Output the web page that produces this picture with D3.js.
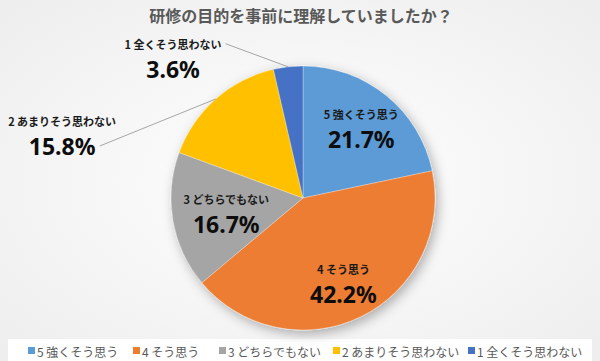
<!DOCTYPE html>
<html>
<head>
<meta charset="utf-8">
<script src="https://cdn.jsdelivr.net/npm/d3@7"></script>
<style>
  body { margin: 0; }
  #container { width: 600px; height: 361px; }
</style>
</head>
<body>
<div id="container"></div>
<script>
let w = 600;
let h = 361;

// data
let categories = ["5 強くそう思う", "4 そう思う", "3 どちらでもない", "2 あまりそう思わない", "1 全くそう思わない"];
let values = [21.7, 42.2, 16.7, 15.8, 3.6];
let colors = ["#5b9bd5", "#ed7d31", "#a5a5a5", "#ffc000", "#4472c4"];
let title = "研修の目的を事前に理解していましたか？";

// label placement: inside labels sit on the slice's mid angle, outside ones at angle + radius factor
let labelPlace = [
  {inside: true, rf: 0.7},
  {inside: true, rf: 0.7},
  {inside: true, rf: 0.59},
  {inside: false, angle: 285.1, rf: 1.89, leaderRow: "pct"},
  {inside: false, angle: 317.6, rf: 1.46, leaderRow: "name"}
];

let cx = 303, cy = 198, r = 132;
let jp = "'Noto Sans CJK JP', sans-serif";
let num = "'Noto Sans', 'Liberation Sans', sans-serif";

let viz = d3.select("#container").append("svg")
    .attr("width", w)
    .attr("height", h);

let defs = viz.append("defs");
let grad = defs.append("radialGradient").attr("id", "bg")
    .attr("cx", "50%").attr("cy", "50%").attr("r", "75%");
grad.append("stop").attr("offset", "0%").attr("stop-color", "#ffffff");
grad.append("stop").attr("offset", "100%").attr("stop-color", "#ececec");

let shadow = defs.append("filter").attr("id", "shadow")
    .attr("x", "-20%").attr("y", "-20%").attr("width", "140%").attr("height", "140%");
shadow.append("feDropShadow")
    .attr("dx", 3).attr("dy", 4).attr("stdDeviation", 6)
    .attr("flood-color", "#000").attr("flood-opacity", 0.3);

viz.append("rect").attr("width", w).attr("height", h).attr("fill", "url(#bg)");

// title
viz.append("text")
    .text(title)
    .attr("x", 301)
    .attr("y", 22)
    .attr("text-anchor", "middle")
    .style("font-family", jp)
    .style("font-weight", "bold")
    .style("font-size", "16px")
    .attr("fill", "#595959");

// legend box (behind the pie shadow)
viz.append("rect")
    .attr("x", 8).attr("y", 339).attr("width", 584).attr("height", 22)
    .attr("fill", "#ffffff");

// pie
let pie = d3.pie().sort(null).value(function(d){ return d; });
let arcs = pie(values);
let arcMaker = d3.arc().innerRadius(0).outerRadius(r);

let g = viz.append("g").attr("transform", "translate(" + cx + "," + cy + ")");

g.append("g").attr("filter", "url(#shadow)")
  .selectAll("path").data(arcs).enter()
  .append("path")
    .attr("d", arcMaker)
    .attr("fill", function(d, i){ return colors[i]; })
    .attr("stroke", "#ffffff")
    .attr("stroke-width", 0.3);

function polar(angleDeg, rad){
  let a = angleDeg * Math.PI / 180;
  return [rad * Math.sin(a), -rad * Math.cos(a)];
}

// labels
arcs.forEach(function(d, i){
  let p = labelPlace[i];
  let mid = (d.startAngle + d.endAngle) / 2 * 180 / Math.PI;
  let pos = p.inside ? polar(mid, r * p.rf) : polar(p.angle, r * p.rf);
  let lg = g.append("g").attr("transform", "translate(" + pos[0] + "," + pos[1] + ")");
  let nameY = -12, pctY = 13;
  let nm = lg.append("text")
      .text(categories[i])
      .attr("x", 0).attr("y", nameY)
      .attr("text-anchor", "middle")
      .attr("dominant-baseline", "central")
      .style("font-family", jp)
      .style("font-weight", "bold")
      .style("font-size", "11px")
      .attr("fill", "#1a1a1a");
  let pc = lg.append("text")
      .text(values[i].toFixed(1) + "%")
      .attr("x", 0).attr("y", pctY)
      .attr("text-anchor", "middle")
      .attr("dominant-baseline", "central")
      .style("font-family", num)
      .style("font-weight", "bold")
      .style("font-size", "23px")
      .attr("fill", "#0d0d0d");

  if(!p.inside){
    let row = p.leaderRow == "name" ? nm : pc;
    let bb = row.node().getBBox();
    let end = [pos[0] + bb.x + bb.width + 4, pos[1] + (p.leaderRow == "name" ? nameY : pctY)];
    let start = polar(mid, r);
    g.append("line")
      .attr("x1", start[0]).attr("y1", start[1])
      .attr("x2", end[0]).attr("y2", end[1])
      .attr("stroke", "#a6a6a6")
      .attr("stroke-width", 1);
  }
});

// legend
let legendX = [28, 133, 219, 333, 468];
let lgd = viz.append("g");
categories.forEach(function(c, i){
  let item = lgd.append("g").attr("transform", "translate(" + legendX[i] + ",351)");
  item.append("rect")
      .attr("x", 0).attr("y", -4).attr("width", 7).attr("height", 7)
      .attr("fill", colors[i]);
  item.append("text")
      .text(c)
      .attr("x", 9).attr("y", 0)
      .attr("dominant-baseline", "central")
      .style("font-family", jp)
      .style("font-size", "12px")
      .attr("fill", "#595959");
});
</script>
</body>
</html>
